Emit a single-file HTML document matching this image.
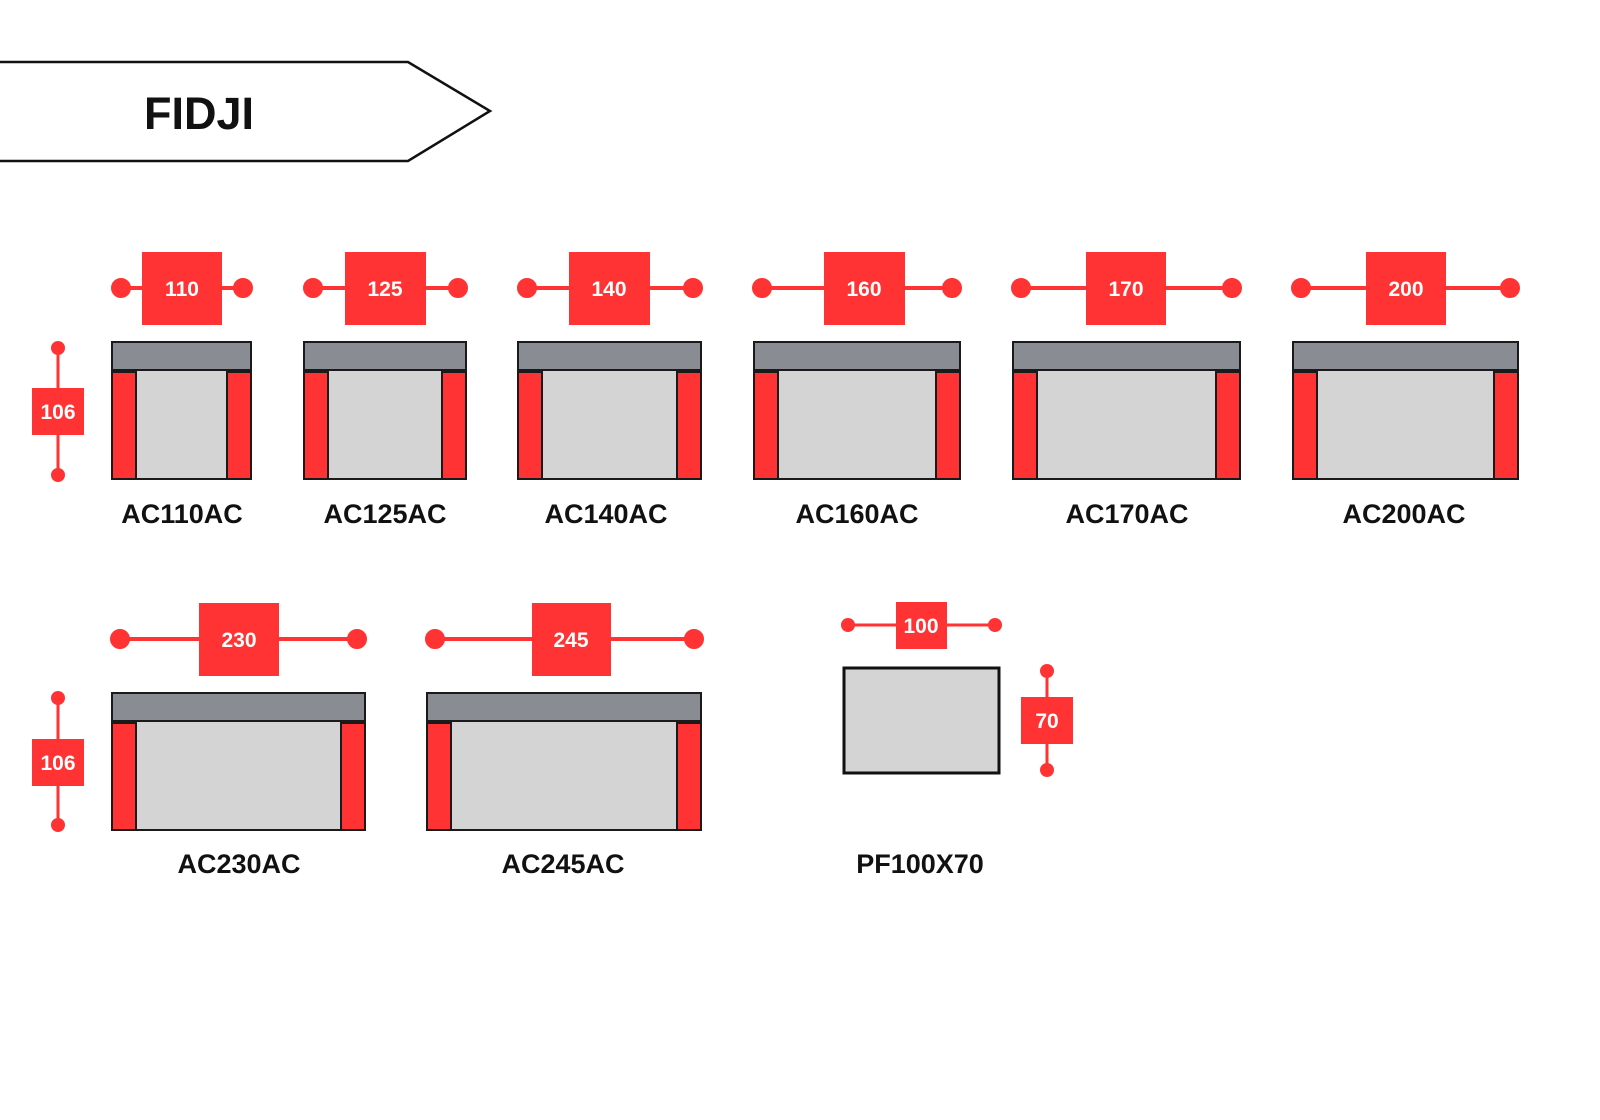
<!DOCTYPE html>
<html><head><style>html,body{margin:0;padding:0;background:#fff}svg{display:block}</style></head><body>
<svg width="1600" height="1120" viewBox="0 0 1600 1120" xmlns="http://www.w3.org/2000/svg" font-family="Liberation Sans, sans-serif" font-weight="bold">
<rect width="1600" height="1120" fill="#fff"/>
<polygon points="-5,62 408,62 490,111 408,161 -5,161" fill="#fff" stroke="#111" stroke-width="2.5"/>
<text x="199" y="129" font-size="45" text-anchor="middle" fill="#111">FIDJI</text>
<g id="s">
</g>
<!-- Row 1 sofas -->
<g stroke="#1a1a1a" stroke-width="2">
<!-- template: grey back, light seat, red arms -->
<rect x="112" y="342" width="139" height="137" fill="#d4d4d4"/><rect x="112" y="342" width="139" height="28" fill="#8a8c94"/><rect x="112" y="372" width="24" height="107" fill="#f33"/><rect x="227" y="372" width="24" height="107" fill="#f33"/>
<rect x="304" y="342" width="162" height="137" fill="#d4d4d4"/><rect x="304" y="342" width="162" height="28" fill="#8a8c94"/><rect x="304" y="372" width="24" height="107" fill="#f33"/><rect x="442" y="372" width="24" height="107" fill="#f33"/>
<rect x="518" y="342" width="183" height="137" fill="#d4d4d4"/><rect x="518" y="342" width="183" height="28" fill="#8a8c94"/><rect x="518" y="372" width="24" height="107" fill="#f33"/><rect x="677" y="372" width="24" height="107" fill="#f33"/>
<rect x="754" y="342" width="206" height="137" fill="#d4d4d4"/><rect x="754" y="342" width="206" height="28" fill="#8a8c94"/><rect x="754" y="372" width="24" height="107" fill="#f33"/><rect x="936" y="372" width="24" height="107" fill="#f33"/>
<rect x="1013" y="342" width="227" height="137" fill="#d4d4d4"/><rect x="1013" y="342" width="227" height="28" fill="#8a8c94"/><rect x="1013" y="372" width="24" height="107" fill="#f33"/><rect x="1216" y="372" width="24" height="107" fill="#f33"/>
<rect x="1293" y="342" width="225" height="137" fill="#d4d4d4"/><rect x="1293" y="342" width="225" height="28" fill="#8a8c94"/><rect x="1293" y="372" width="24" height="107" fill="#f33"/><rect x="1494" y="372" width="24" height="107" fill="#f33"/>
<!-- Row 2 -->
<rect x="112" y="693" width="253" height="137" fill="#d4d4d4"/><rect x="112" y="693" width="253" height="28" fill="#8a8c94"/><rect x="112" y="723" width="24" height="107" fill="#f33"/><rect x="341" y="723" width="24" height="107" fill="#f33"/>
<rect x="427" y="693" width="274" height="137" fill="#d4d4d4"/><rect x="427" y="693" width="274" height="28" fill="#8a8c94"/><rect x="427" y="723" width="24" height="107" fill="#f33"/><rect x="677" y="723" width="24" height="107" fill="#f33"/>
</g>
<rect x="844" y="668" width="155" height="105" fill="#d4d4d4" stroke="#111" stroke-width="3"/>
<!-- dimension lines -->
<g stroke="#f33" stroke-width="4" fill="#f33">
<line x1="121" y1="288" x2="243" y2="288"/><circle cx="121" cy="288" r="8"/><circle cx="243" cy="288" r="8"/>
<line x1="313" y1="288" x2="458" y2="288"/><circle cx="313" cy="288" r="8"/><circle cx="458" cy="288" r="8"/>
<line x1="527" y1="288" x2="693" y2="288"/><circle cx="527" cy="288" r="8"/><circle cx="693" cy="288" r="8"/>
<line x1="762" y1="288" x2="952" y2="288"/><circle cx="762" cy="288" r="8"/><circle cx="952" cy="288" r="8"/>
<line x1="1021" y1="288" x2="1232" y2="288"/><circle cx="1021" cy="288" r="8"/><circle cx="1232" cy="288" r="8"/>
<line x1="1301" y1="288" x2="1510" y2="288"/><circle cx="1301" cy="288" r="8"/><circle cx="1510" cy="288" r="8"/>
<line x1="120" y1="639" x2="357" y2="639"/><circle cx="120" cy="639" r="8"/><circle cx="357" cy="639" r="8"/>
<line x1="435" y1="639" x2="694" y2="639"/><circle cx="435" cy="639" r="8"/><circle cx="694" cy="639" r="8"/>
<line x1="58" y1="348" x2="58" y2="475" stroke-width="3"/><circle cx="58" cy="348" r="5"/><circle cx="58" cy="475" r="5"/>
<line x1="58" y1="698" x2="58" y2="825" stroke-width="3"/><circle cx="58" cy="698" r="5"/><circle cx="58" cy="825" r="5"/>
<line x1="848" y1="625" x2="995" y2="625" stroke-width="3"/><circle cx="848" cy="625" r="5"/><circle cx="995" cy="625" r="5"/>
<line x1="1047" y1="671" x2="1047" y2="770" stroke-width="3"/><circle cx="1047" cy="671" r="5"/><circle cx="1047" cy="770" r="5"/>
</g>
<g fill="#f33">
<rect x="142" y="252" width="80" height="73"/><rect x="345" y="252" width="81" height="73"/><rect x="569" y="252" width="81" height="73"/><rect x="824" y="252" width="81" height="73"/><rect x="1086" y="252" width="80" height="73"/><rect x="1366" y="252" width="80" height="73"/>
<rect x="199" y="603" width="80" height="73"/><rect x="532" y="603" width="79" height="73"/>
<rect x="32" y="388" width="52" height="47"/><rect x="32" y="739" width="52" height="47"/>
<rect x="896" y="602" width="51" height="47"/><rect x="1021" y="697" width="52" height="47"/>
</g>
<g fill="#fff" font-size="21" text-anchor="middle">
<text x="182" y="296">110</text><text x="385" y="296">125</text><text x="609" y="296">140</text><text x="864" y="296">160</text><text x="1126" y="296">170</text><text x="1406" y="296">200</text>
<text x="239" y="647">230</text><text x="571" y="647">245</text>
<text x="58" y="419">106</text><text x="58" y="770">106</text>
<text x="921" y="633">100</text><text x="1047" y="728">70</text>
</g>
<g fill="#111" font-size="27" text-anchor="middle">
<text x="182" y="523">AC110AC</text><text x="385" y="523">AC125AC</text><text x="606" y="523">AC140AC</text><text x="857" y="523">AC160AC</text><text x="1127" y="523">AC170AC</text><text x="1404" y="523">AC200AC</text>
<text x="239" y="873">AC230AC</text><text x="563" y="873">AC245AC</text><text x="920" y="873">PF100X70</text>
</g>
</svg>
</body></html>
